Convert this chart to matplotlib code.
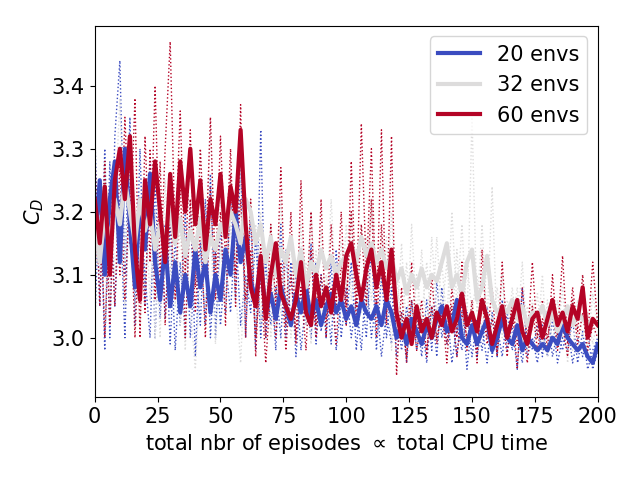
import numpy as np
import matplotlib
matplotlib.use("Agg")
import matplotlib.pyplot as plt

# episodes (every 2nd episode)
episodes = np.arange(0, 201, 2)

# averaged drag coefficient per number of environments
cd_20 = [3.15, 3.25, 3.10, 3.22, 3.28, 3.12, 3.30, 3.18, 3.08, 3.22,
         3.14, 3.26, 3.12, 3.06, 3.15, 3.05, 3.12, 3.04, 3.10, 3.05,
         3.14, 3.08, 3.12, 3.04, 3.10, 3.06, 3.14, 3.10, 3.20, 3.12,
         3.16, 3.09, 3.06, 3.12, 3.04, 3.07, 3.03, 3.08, 3.05, 3.02,
         3.07, 3.04, 3.08, 3.03, 3.06, 3.02, 3.05, 3.07, 3.04, 3.06,
         3.03, 3.05, 3.02, 3.06, 3.04, 3.03, 3.05, 3.02, 3.06, 3.04,
         3.00, 3.02, 2.99, 3.03, 3.01, 2.99, 3.02, 3.00, 3.03, 3.05,
         3.01, 3.02, 3.06, 3.00, 2.99, 3.02, 2.99, 3.01, 3.03, 2.98,
         3.00, 3.03, 3.00, 2.99, 3.02, 2.98, 3.00, 2.99, 2.98, 2.99,
         2.98, 3.00, 2.99, 3.02, 3.00, 2.99, 2.98, 2.99, 2.97, 2.96, 2.99]
cd_32 = [3.18, 3.12, 3.20, 3.15, 3.22, 3.18, 3.25, 3.20, 3.15, 3.22,
         3.17, 3.20, 3.14, 3.18, 3.16, 3.20, 3.15, 3.19, 3.13, 3.17,
         3.14, 3.19, 3.12, 3.16, 3.14, 3.18, 3.16, 3.20, 3.18, 3.15,
         3.22, 3.20, 3.15, 3.18, 3.12, 3.16, 3.10, 3.14, 3.12, 3.16,
         3.10, 3.14, 3.08, 3.12, 3.10, 3.14, 3.11, 3.13, 3.10, 3.12,
         3.13, 3.15, 3.12, 3.16, 3.13, 3.15, 3.12, 3.14, 3.11, 3.13,
         3.09, 3.11, 3.07, 3.10, 3.08, 3.11, 3.08, 3.10, 3.09, 3.12,
         3.15, 3.08, 3.10, 3.07, 3.12, 3.14, 3.06, 3.08, 3.13, 3.06,
         3.04, 3.05, 3.04, 3.06, 3.03, 3.05, 3.02, 3.04, 3.03, 3.05,
         3.02, 3.04, 3.01, 3.03, 3.05, 3.02, 3.04, 3.03, 3.02, 3.03, 3.02]
cd_60 = [3.22, 3.15, 3.24, 3.10, 3.25, 3.30, 3.22, 3.32, 3.14, 3.06,
         3.25, 3.18, 3.28, 3.20, 3.12, 3.26, 3.16, 3.28, 3.20, 3.30,
         3.18, 3.25, 3.14, 3.22, 3.18, 3.26, 3.16, 3.24, 3.20, 3.33,
         3.18, 3.08, 3.05, 3.13, 3.03, 3.10, 3.15, 3.07, 3.05, 3.03,
         3.06, 3.12, 3.04, 3.02, 3.10, 3.05, 3.08, 3.04, 3.10, 3.06,
         3.13, 3.15, 3.10, 3.06, 3.11, 3.14, 3.08, 3.12, 3.06, 3.14,
         3.04, 3.00, 3.03, 2.99, 3.05, 3.01, 3.03, 3.00, 3.04, 3.02,
         3.05, 3.01, 3.03, 3.07, 3.02, 3.04, 3.01, 3.06, 3.03, 2.99,
         3.02, 3.05, 3.00, 3.03, 3.06, 3.01, 2.99, 3.03, 3.04, 3.00,
         3.03, 3.06, 3.02, 3.04, 3.01, 3.05, 3.03, 3.08, 3.00, 3.03, 3.02]

# individual runs (dotted)
cd_20_a = [3.33, 3.05, 3.30, 3.00, 3.32, 3.44, 3.10, 3.35, 3.02, 3.30,
           3.05, 3.28, 3.00, 3.20, 3.03, 3.18, 2.98, 3.12, 3.00, 3.22,
           2.97, 3.15, 3.02, 3.26, 3.00, 3.18, 3.04, 3.24, 3.06, 3.28,
           3.00, 3.20, 2.98, 3.33, 3.00, 3.10, 2.98, 3.18, 3.00, 3.12,
           2.97, 3.08, 3.02, 3.15, 2.99, 3.10, 3.00, 3.12, 2.98, 3.06,
           3.02, 3.12, 2.98, 3.08, 3.00, 3.15, 2.98, 3.10, 3.00, 3.08,
           2.97, 3.04, 2.96, 3.06, 2.98, 3.03, 2.96, 3.05, 2.97, 3.08,
           2.99, 3.04, 2.97, 3.06, 2.95, 3.03, 2.97, 3.02, 2.96, 3.04,
           2.97, 3.06, 2.98, 3.02, 2.95, 3.08, 2.97, 3.00, 2.96, 3.02,
           2.97, 3.03, 2.96, 3.00, 2.98, 3.03, 2.96, 3.01, 2.95, 2.98, 3.00]
cd_20_b = [3.02, 3.25, 2.98, 3.28, 3.05, 3.22, 3.00, 3.30, 3.05, 3.20,
           3.10, 3.00, 3.25, 3.03, 3.18, 2.99, 3.16, 3.02, 3.20, 3.00,
           3.12, 3.02, 3.22, 3.00, 3.14, 3.02, 3.12, 3.04, 3.18, 3.02,
           3.10, 3.04, 3.16, 3.00, 3.12, 3.02, 3.08, 3.00, 3.14, 3.02,
           3.10, 2.98, 3.06, 3.00, 3.12, 3.01, 3.08, 2.99, 3.14, 3.00,
           3.08, 3.00, 3.06, 2.98, 3.10, 3.00, 3.06, 2.97, 3.04, 2.99,
           3.04, 2.98, 3.05, 2.99, 3.04, 2.97, 3.06, 2.98, 3.09, 3.00,
           3.05, 2.96, 3.02, 2.98, 3.04, 2.97, 3.03, 2.98, 3.05, 2.97,
           3.02, 2.97, 3.04, 2.98, 3.01, 2.96, 3.03, 2.98, 3.02, 2.97,
           3.04, 2.97, 3.01, 2.98, 3.02, 2.96, 3.00, 2.97, 3.01, 2.95, 2.98]
cd_32_a = [3.25, 3.10, 3.28, 3.05, 3.20, 3.38, 3.12, 3.26, 3.05, 3.22,
           3.08, 3.25, 3.00, 3.20, 3.10, 3.24, 3.05, 3.18, 2.98, 3.22,
           3.12, 3.30, 3.10, 3.35, 3.08, 3.22, 3.10, 3.26, 3.12, 3.28,
           3.05, 3.22, 3.00, 3.20, 3.05, 3.18, 3.02, 3.22, 3.04, 3.16,
           3.05, 3.18, 3.02, 3.20, 3.06, 3.17, 3.04, 3.22, 3.06, 3.15,
           3.08, 3.20, 3.06, 3.18, 3.04, 3.22, 3.08, 3.16, 3.05, 3.20,
           3.02, 3.15, 3.00, 3.18, 3.03, 3.14, 3.00, 3.16, 3.04, 3.12,
           3.02, 3.20, 3.05, 3.18, 3.02, 3.35, 3.04, 3.18, 3.02, 3.24,
           3.00, 3.10, 2.99, 3.08, 3.01, 3.12, 2.98, 3.06, 3.00, 3.10,
           2.97, 3.05, 3.00, 3.08, 2.96, 3.06, 3.00, 3.10, 2.98, 3.07, 3.02]
cd_32_b = [3.08, 3.22, 3.02, 3.24, 3.10, 3.18, 3.05, 3.20, 3.12, 3.02,
           3.22, 3.06, 3.20, 3.00, 3.25, 3.10, 3.20, 3.02, 3.15, 3.05,
           2.95, 3.10, 3.05, 3.18, 2.99, 3.15, 3.05, 3.18, 3.08, 2.96,
           3.14, 3.06, 3.18, 3.02, 3.14, 3.00, 3.12, 3.04, 3.14, 3.00,
           3.10, 3.04, 3.12, 2.99, 3.14, 3.02, 3.10, 3.03, 3.12, 3.05,
           3.18, 3.06, 3.14, 3.04, 3.16, 3.06, 3.12, 3.08, 3.16, 2.98,
           3.10, 3.02, 3.12, 3.00, 3.10, 3.03, 3.12, 3.02, 3.16, 3.04,
           3.12, 3.02, 3.14, 3.00, 3.12, 3.04, 3.10, 3.00, 3.13, 3.02,
           3.08, 3.00, 3.06, 3.02, 3.08, 2.99, 3.05, 3.01, 3.07, 2.98,
           3.06, 2.99, 3.06, 3.00, 3.04, 2.98, 3.06, 3.00, 3.04, 2.99, 3.03]
cd_60_a = [3.30, 3.05, 3.28, 3.02, 3.26, 3.10, 3.35, 3.15, 3.38, 3.00,
           3.32, 3.12, 3.40, 3.10, 3.30, 3.47, 3.15, 3.36, 3.10, 3.33,
           3.08, 3.30, 3.12, 3.35, 3.10, 3.32, 3.12, 3.30, 3.05, 3.37,
           3.00, 3.22, 2.97, 3.15, 3.00, 3.18, 3.05, 3.27, 3.02, 3.20,
           2.99, 3.25, 3.04, 3.20, 3.02, 3.22, 3.00, 3.18, 3.05, 3.20,
           3.02, 3.28, 3.05, 3.34, 3.10, 3.30, 3.04, 3.33, 3.02, 3.32,
           2.94, 3.08, 2.96, 3.12, 3.00, 3.06, 2.97, 3.10, 2.99, 3.05,
           2.96, 3.08, 3.00, 3.12, 2.98, 3.06, 2.96, 3.14, 3.00, 3.08,
           2.97, 3.12, 3.00, 3.05, 2.95, 3.08, 2.99, 3.12, 3.00, 3.06,
           2.98, 3.10, 3.00, 3.13, 2.99, 3.08, 3.01, 3.10, 3.00, 3.12, 3.02]
cd_60_b = [3.10, 3.25, 3.00, 3.20, 3.05, 3.28, 3.06, 3.24, 3.00, 3.20,
           3.04, 3.30, 3.06, 3.28, 3.02, 3.20, 3.06, 3.25, 3.00, 3.22,
           3.04, 3.18, 3.00, 3.24, 3.06, 3.20, 3.02, 3.26, 3.10, 3.22,
           3.06, 3.14, 3.00, 3.10, 2.96, 3.08, 3.00, 3.12, 2.98, 3.10,
           3.00, 3.08, 2.98, 3.14, 3.00, 3.10, 3.03, 3.08, 2.99, 3.12,
           3.05, 3.20, 3.02, 3.18, 3.05, 3.22, 3.00, 3.18, 3.04, 3.10,
           3.00, 3.04, 2.97, 3.06, 2.98, 3.03, 2.98, 3.05, 3.00, 3.04,
           2.99, 3.05, 2.97, 3.04, 3.00, 3.02, 2.98, 3.06, 2.99, 3.03,
           2.98, 3.04, 2.97, 3.06, 2.99, 3.02, 2.96, 3.05, 2.98, 3.03,
           3.00, 3.05, 2.98, 3.02, 2.97, 3.06, 2.99, 3.04, 2.98, 3.02, 3.00]

labels = ['20 envs', '32 envs', '60 envs']
colors = [plt.cm.coolwarm(0.0), plt.cm.coolwarm(0.5), plt.cm.coolwarm(1.0)]
means = [cd_20, cd_32, cd_60]
runs = [[cd_20_a, cd_20_b], [cd_32_a, cd_32_b], [cd_60_a, cd_60_b]]

plt.rcParams['font.size'] = 15
fig, ax = plt.subplots(figsize=(6.4, 4.8), dpi=100)

for col, rr in zip(colors, runs):
    for r in rr:
        ax.plot(episodes, r, ':', color=col, linewidth=1.0)

for col, m, lab in zip(colors, means, labels):
    ax.plot(episodes, m, '-', color=col, linewidth=3.0, label=lab)

ax.set_xlim(0, 200)
ax.set_ylim(2.906, 3.495)
ax.set_xlabel(r'total nbr of episodes $\propto$ total CPU time')
ax.set_ylabel(r'$C_D$')
ax.legend(loc='upper right')

plt.subplots_adjust(left=0.148, right=0.934, bottom=0.173, top=0.946)
plt.savefig('out.png')
